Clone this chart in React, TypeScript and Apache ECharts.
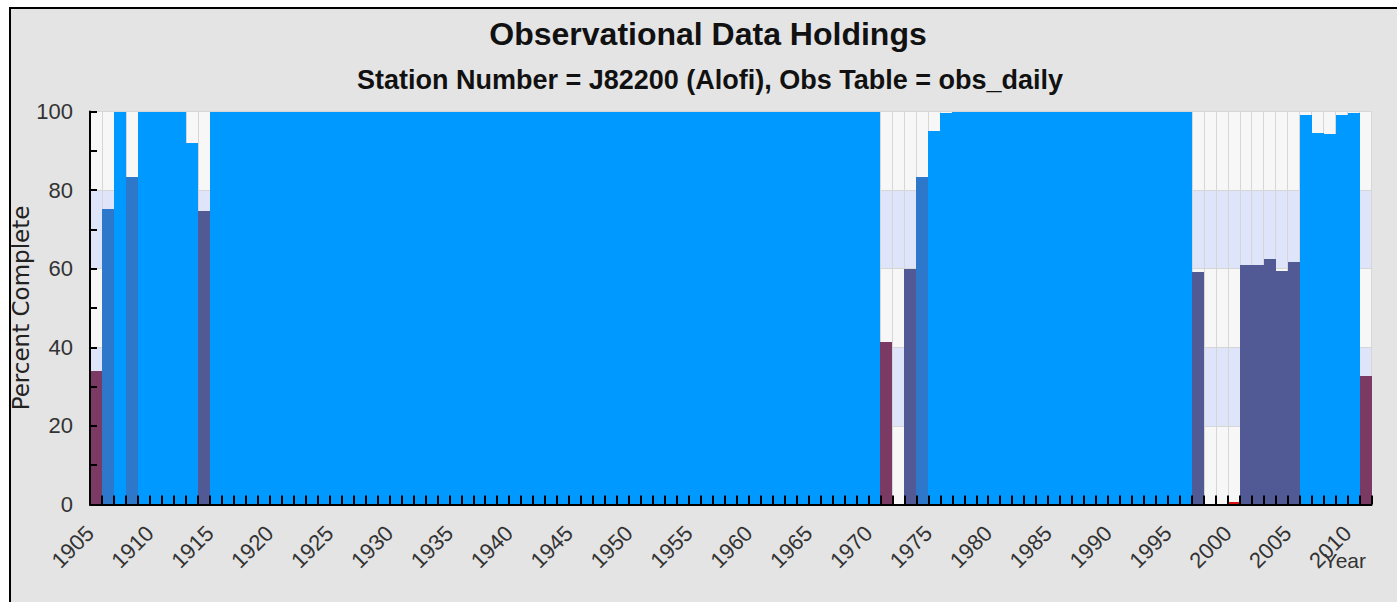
import React, { useEffect, useRef } from 'react';
import * as echarts from 'echarts';

// ---- data ----
const years: number[] = [
  1905, 1906, 1907, 1908, 1909, 1910, 1911, 1912, 1913, 1914,
  1915, 1916, 1917, 1918, 1919, 1920, 1921, 1922, 1923, 1924,
  1925, 1926, 1927, 1928, 1929, 1930, 1931, 1932, 1933, 1934,
  1935, 1936, 1937, 1938, 1939, 1940, 1941, 1942, 1943, 1944,
  1945, 1946, 1947, 1948, 1949, 1950, 1951, 1952, 1953, 1954,
  1955, 1956, 1957, 1958, 1959, 1960, 1961, 1962, 1963, 1964,
  1965, 1966, 1967, 1968, 1969, 1970, 1971, 1972, 1973, 1974,
  1975, 1976, 1977, 1978, 1979, 1980, 1981, 1982, 1983, 1984,
  1985, 1986, 1987, 1988, 1989, 1990, 1991, 1992, 1993, 1994,
  1995, 1996, 1997, 1998, 1999, 2000, 2001, 2002, 2003, 2004,
  2005, 2006, 2007, 2008, 2009, 2010, 2011,
];

const percentComplete: number[] = [
  34, 75.3, 100, 83.3, 100, 100, 100, 100, 92.1, 74.8,
  100, 100, 100, 100, 100, 100, 100, 100, 100, 100,
  100, 100, 100, 100, 100, 100, 100, 100, 100, 100,
  100, 100, 100, 100, 100, 100, 100, 100, 100, 100,
  100, 100, 100, 100, 100, 100, 100, 100, 100, 100,
  100, 100, 100, 100, 100, 100, 100, 100, 100, 100,
  100, 100, 100, 100, 100, 100, 41.4, 0, 59.9, 83.3,
  95.1, 99.5, 100, 100, 100, 100, 100, 100, 100, 100,
  100, 100, 100, 100, 100, 100, 100, 100, 100, 100,
  100, 100, 59.2, 0, 0, 0.6, 60.9, 60.9, 62.4, 59.4,
  61.8, 99.1, 94.6, 94.2, 99.1, 99.5, 32.8,
];

const xMin = 1905;
const xMax = 2012;
const xLabelStep = 5;
const yLabelStep = 20;

const levelMins: number[] = [90, 75, 50, 25, 0];
const levelColors: string[] = ['#0099ff', '#2e78cc', '#525a96', '#7b3a64', '#dd1111'];

const titleText = 'Observational Data Holdings';
const subtitleText = 'Station Number = J82200 (Alofi), Obs Table = obs_daily';
const xAxisName = 'Year';
const yAxisName = 'Percent Complete';

function colorFor(v: number): string {
  for (let i = 0; i < levelMins.length; i++) {
    if (v >= levelMins[i]) return levelColors[i];
  }
  return levelColors[levelColors.length - 1];
}

export default function App() {
  const ref = useRef<HTMLDivElement>(null);

  useEffect(() => {
    document.body.style.margin = '0';
    document.body.style.overflow = 'hidden';
    const chart = echarts.init(ref.current!, null, { renderer: 'svg' });
    const data = years.map((y, i) => [y, percentComplete[i]]);

    chart.setOption({
      animation: false,
      backgroundColor: 'transparent',
      title: [
        {
          text: titleText,
          left: 708,
          top: 18,
          padding: 0,
          textAlign: 'center',
          textStyle: { fontFamily: 'Liberation Sans', fontSize: 32, fontWeight: 'bold', color: '#111' },
        },
        {
          text: subtitleText,
          left: 710,
          top: 66,
          padding: 0,
          textAlign: 'center',
          textStyle: { fontFamily: 'Liberation Sans', fontSize: 27, fontWeight: 'bold', color: '#111' },
        },
      ],
      graphic: [
        {
          type: 'text',
          x: 1366,
          y: 560,
          z: 10,
          style: {
            text: xAxisName,
            align: 'right',
            verticalAlign: 'middle',
            fontFamily: 'Liberation Sans',
            fontSize: 21,
            fill: '#333',
          },
        },
      ],
      grid: {
        left: 90,
        right: 25.5,
        top: 111.5,
        bottom: 97.5,
        containLabel: false,
        outerBoundsMode: 'none',
      },
      xAxis: [
        {
          type: 'value',
          position: 'bottom',
          min: xMin,
          max: xMax,
          interval: 1,
          z: 0,
          axisLine: { show: false },
          axisTick: { show: false },
          axisLabel: { show: false },
          splitLine: { show: true, lineStyle: { color: '#d6d6d6', width: 1 } },
        },
        {
          type: 'value',
          position: 'bottom',
          min: xMin,
          max: xMax,
          interval: 1,
          z: 5,
          axisLine: { show: true, onZero: false, lineStyle: { color: '#000', width: 2 } },
          axisTick: { show: true, inside: true, length: 9, lineStyle: { color: '#000', width: 2 } },
          axisLabel: {
            rotate: 45,
            margin: 25,
            fontFamily: 'Liberation Sans',
            fontSize: 22,
            color: '#333',
            formatter: (v: number) => (v % xLabelStep === 0 && v <= 2010 ? String(v) : ''),
          },
          splitLine: { show: false },
        },
      ],
      yAxis: [
        {
          type: 'value',
          position: 'left',
          min: 0,
          max: 100,
          interval: yLabelStep,
          z: 0,
          axisLine: { show: false },
          axisTick: { show: false },
          axisLabel: { show: false },
          splitLine: { show: true, lineStyle: { color: '#d6d6d6', width: 1 } },
          splitArea: { show: true, areaStyle: { color: ['#f7f7f7', '#dee4fa'] } },
        },
        {
          type: 'value',
          position: 'left',
          min: 0,
          max: 100,
          interval: 10,
          z: 5,
          axisLine: { show: true, onZero: false, lineStyle: { color: '#000', width: 2 } },
          axisTick: { show: true, inside: true, length: 7, lineStyle: { color: '#000', width: 2 } },
          axisLabel: {
            margin: 17,
            fontFamily: 'Liberation Sans',
            fontSize: 22,
            color: '#333',
            formatter: (v: number) => (v % yLabelStep === 0 ? String(v) : ''),
          },
          splitLine: { show: false },
          splitArea: { show: false },
          name: yAxisName,
          nameLocation: 'middle',
          nameGap: 58,
          nameMoveOverlap: false,
          nameTextStyle: { fontFamily: 'DejaVu Sans', fontSize: 23, color: '#222' },
        },
      ],
      series: [
        {
          type: 'custom',
          xAxisIndex: 0,
          yAxisIndex: 0,
          z: 2,
          clip: true,
          encode: { x: 0, y: 1 },
          data,
          renderItem: (params: any, api: any) => {
            const yr = api.value(0);
            const v = api.value(1);
            if (!(v > 0)) return null;
            const p0 = api.coord([yr, 0]);
            const p1 = api.coord([yr + 1, v]);
            const x0 = Math.round(p0[0]);
            const x1 = Math.round(p1[0]);
            const yb = Math.round(p0[1]);
            const yt = Math.round(p1[1]);
            return {
              type: 'rect',
              shape: { x: x0, y: yt, width: x1 - x0, height: Math.max(1, yb - yt) },
              style: { fill: colorFor(v) },
            };
          },
        },
      ],
    });

    return () => chart.dispose();
  }, []);

  return (
    <div style={{ position: 'absolute', left: 0, top: 0, width: 1397, height: 602, background: '#fff', overflow: 'hidden' }}>
      <div
        style={{
          position: 'absolute',
          left: 9,
          top: 7,
          width: 1388,
          height: 595,
          boxSizing: 'border-box',
          borderLeft: '2px solid #000',
          borderTop: '2px solid #000',
          background: '#e4e4e4',
        }}
      />
      <div ref={ref} style={{ position: 'absolute', left: 0, top: 0, width: 1397, height: 602 }} />
    </div>
  );
}
